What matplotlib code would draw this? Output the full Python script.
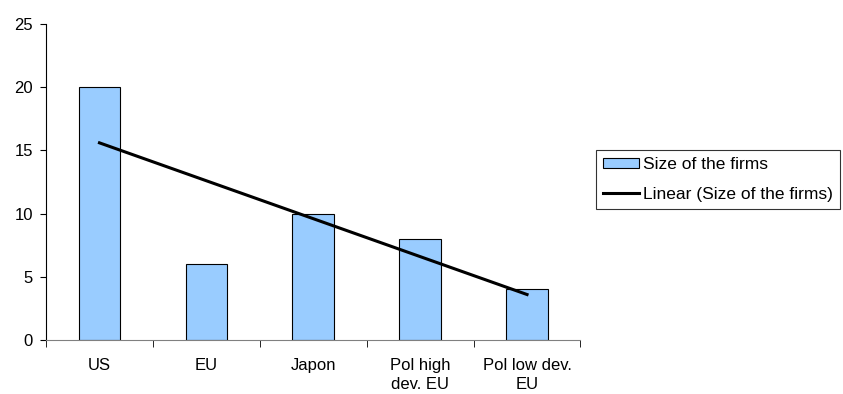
import matplotlib
matplotlib.use("Agg")
import matplotlib.pyplot as plt
import numpy as np

categories = ["US", "EU", "Japon", "Pol high\ndev. EU", "Pol low dev.\nEU"]
sizes = [20, 6, 10, 8, 4]

plt.rcParams['font.family'] = ['Liberation Sans', 'DejaVu Sans']

fig = plt.figure(figsize=(8.43, 3.94), dpi=100)
ax = fig.add_axes([0.0546, 0.137, 0.634, 0.802])

x = np.arange(len(categories))
bars = ax.bar(x, sizes, width=0.39, color='#99CCFF', edgecolor='black', linewidth=0.8,
              label='Size of the firms', zorder=2)

# linear trend through the bars
k, b = np.polyfit(x, sizes, 1)
trend, = ax.plot(x, k * x + b, color='black', linewidth=2.2,
                 label='Linear (Size of the firms)', zorder=3)

ax.set_xlim(-0.5, len(categories) - 0.5)
ax.set_ylim(0, 25)
ax.set_yticks(range(0, 26, 5))
ax.set_xticks(x)
ax.set_xticklabels(categories, fontsize=12, linespacing=1.35)
ax.set_xticks(np.arange(-0.5, len(categories), 1), minor=True)
ax.tick_params(axis='x', which='major', length=0, pad=13)
ax.tick_params(axis='x', which='minor', length=5, direction='out')
ax.tick_params(axis='y', labelsize=12, length=4.3, pad=5, direction='out')
for s in ['top', 'right']:
    ax.spines[s].set_visible(False)
ax.spines['left'].set_color('black')
ax.spines['bottom'].set_color('#808080')

leg = fig.legend([bars, trend], ['Size of the firms', 'Linear (Size of the firms)'],
                 loc='upper left', bbox_to_anchor=(0.707, 0.619), fontsize=12.5,
                 frameon=True, fancybox=False, edgecolor='black', handlelength=2.1,
                 handleheight=0.5, borderpad=0.4, labelspacing=0.85, handletextpad=0.2,
                 borderaxespad=0)
leg.get_frame().set_linewidth(0.8)

fig.savefig('out.png', dpi=100)
